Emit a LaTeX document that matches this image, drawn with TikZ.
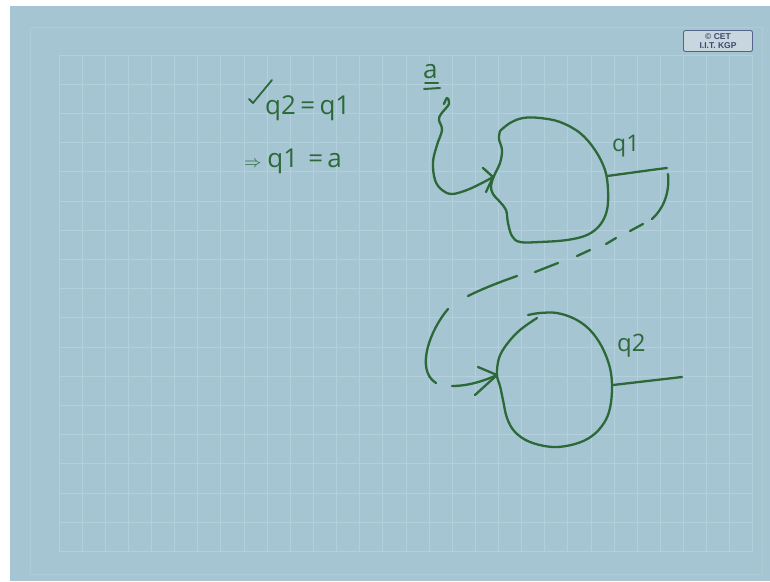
\documentclass[tikz,border=0pt]{standalone}
\usepackage{fontspec}
\setmainfont{Open Sans}
\newfontfamily\labelfont{Liberation Sans}
\definecolor{board}{RGB}{165,197,210}
\definecolor{gridc}{RGB}{180,208,220}
\definecolor{framec}{RGB}{174,203,215}
\definecolor{pen}{RGB}{44,104,56}
\definecolor{boxborder}{RGB}{86,98,140}
\definecolor{boxfill}{RGB}{200,214,224}
\definecolor{boxtext}{RGB}{60,72,110}
\begin{document}
\begin{tikzpicture}[x=1pt,y=-1pt,
  pen/.style={draw=pen, line width=2.3pt, line cap=round, line join=round},
  hand/.style={text=pen, inner sep=0pt},
  gridline/.style={draw=gridc, line width=0.9pt}]
\useasboundingbox (0,0) rectangle (770,581);
\fill[white] (0,0) rectangle (770,581);
\fill[board] (10,6) rectangle (770,581);
\draw[framec, line width=0.9pt] (30,27) rectangle (762,574);
\foreach \i in {0,...,30} \draw[gridline] ({59+23.13*\i},55) -- ({59+23.13*\i},552);
\foreach \j in {0,...,17} \draw[gridline] (59,{55+29.2*\j}) -- (753,{55+29.2*\j});

% copyright box
\node[draw=boxborder, fill=boxfill, rounded corners=2pt, line width=0.9pt,
  minimum width=69pt, minimum height=21pt, inner sep=1pt, align=center,
  text=boxtext, font=\labelfont\bfseries\fontsize{8.5}{8.5}\selectfont] (cet) at (718,41)
  {\textcopyright{} CET\\I.I.T. KGP};

% equations
\draw[pen, line width=1.8pt] (249,99) -- (253,103) -- (272,80);
\node[hand, anchor=base west, font=\fontsize{26}{26}\selectfont] (eq1) at (265,114) {q2\,=\,q1};
\node[hand, anchor=base west, font=\fontsize{26}{26}\selectfont] (eq2) at (244,167)
  {{\fontsize{16}{16}\selectfont$\Rightarrow$}\hspace{6pt}q1\hspace{10pt}=\,a};

% input label a
\node[hand, anchor=base west, font=\fontsize{26}{26}\selectfont] (la) at (423,78) {a};
\draw[pen, line width=2pt] (425,83) -- (438,83);
\draw[pen, line width=2pt] (424,89) -- (440,88);

% first blob q1
\draw[pen] plot[smooth, tension=0.6] coordinates {(500,131) (510,123) (523,118) (540,118) (560,122) (580,133) (595,150) (605,170) (608,190) (607,210) (600,225) (587,235) (567,240) (540,242) (520,242) (512,236) (508,223) (506,210) (500,202) (493,194) (491,186) (494,176) (500,163) (502,150) (499,139) (500,131)};
\coordinate (q1in) at (493,177);
\draw[pen] plot[smooth, tension=0.6] coordinates {(444,104) (447,98) (449,104) (441,114) (439,120) (442,130) (437,145) (433,162) (435,180) (442,190) (452,194) (467,190) (482,183) (493,177)};
\draw[pen] (483,168) -- (q1in) -- (486,192);
\coordinate (q1out) at (607,176);
\coordinate (q1end) at (667,168);
\draw[pen] (q1out) .. controls (630,173) and (650,170) .. (q1end);
\node[hand, anchor=base west, font=\fontsize{23}{23}\selectfont] (lq1) at (612,151) {q1};

% dashed feedback
\draw[pen] (668,174) .. controls (670,195) and (662,210) .. (652,219);
\draw[pen] (643,224) -- (630,231);
\draw[pen] (616,238) -- (606,244);
\draw[pen] (590,250) -- (577,256);
\draw[pen] (558,263) -- (535,272);
\draw[pen] (517,276) .. controls (500,282) and (484,288) .. (468,296);
\draw[pen] (448,309) .. controls (430,330) and (415,370) .. (436,383);
\coordinate (q2in) at (497,375);
\draw[pen] (452,386) .. controls (468,386) and (484,381) .. (q2in);
\draw[pen] (478,367) -- (q2in) -- (475,395);

% second blob q2
\draw[pen] plot[smooth, tension=0.6] coordinates {(528,315) (540,313) (557,313) (575,319) (590,330) (602,347) (610,368) (612,388) (610,408) (604,423) (592,436) (575,444) (553,447) (530,442) (515,432) (507,418) (503,400) (500,386) (497,375) (499,358) (507,344) (520,330) (537,318)};
\coordinate (q2out) at (613,385);
\coordinate (q2end) at (682,377);
\draw[pen] (q2out) -- (q2end);
\node[hand, anchor=base west, font=\fontsize{24}{24}\selectfont] (lq2) at (617,351) {q2};
\end{tikzpicture}
\end{document}
